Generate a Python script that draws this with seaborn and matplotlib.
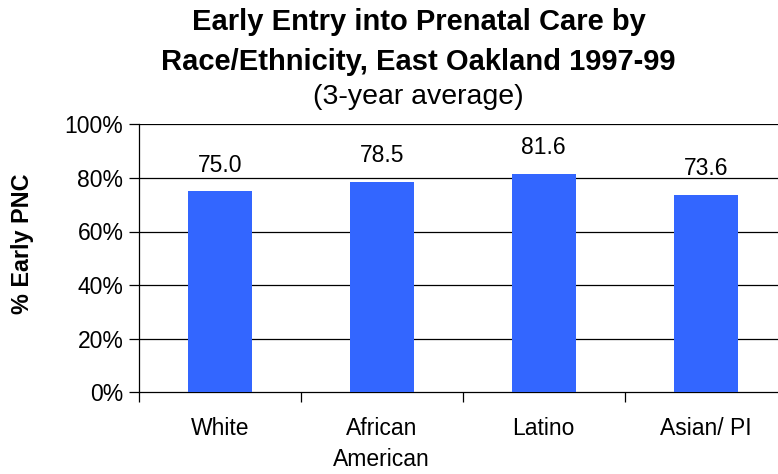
import matplotlib
matplotlib.use("Agg")
import matplotlib.pyplot as plt
import seaborn as sns
import pandas as pd

# Early prenatal care entry by race/ethnicity, East Oakland 1997-99
groups = ["White", "African\nAmerican", "Latino", "Asian/ PI"]
pct_early = [75.0, 78.5, 81.6, 73.6]
y_ticks = [0, 20, 40, 60, 80, 100]
y_tick_labels = ["0%", "20%", "40%", "60%", "80%", "100%"]

df = pd.DataFrame({"group": groups, "pct": pct_early})

sns.set_theme(style="white")
plt.rcParams["font.family"] = ["Liberation Sans", "DejaVu Sans"]
plt.rcParams["text.color"] = "black"
plt.rcParams["xtick.color"] = "black"
plt.rcParams["ytick.color"] = "black"
plt.rcParams["axes.labelcolor"] = "black"

fig = plt.figure(figsize=(7.78, 4.74), dpi=100)
ax = fig.add_axes([138.7 / 778, (474 - 392.3) / 474, 648 / 778, 268 / 474])

sns.barplot(data=df, x="group", y="pct", color="#3366FF", saturation=1,
            width=0.395, linewidth=0, edgecolor="none", ax=ax, zorder=3)

ax.set_xlim(-0.5, 3.5)
ax.set_ylim(0, 100)

# horizontal gridlines
for v in y_ticks[1:]:
    ax.axhline(v, color="black", linewidth=0.9, zorder=1)

ax.set_yticks(y_ticks)
ax.set_yticklabels(y_tick_labels, fontsize=16.5)
ax.tick_params(axis="y", direction="out", length=7, width=0.9, color="black",
               left=True, pad=4)

# category boundary ticks below, labels on category centres
ax.set_xticks([-0.5, 0.5, 1.5, 2.5, 3.5])
ax.set_xticklabels([])
ax.set_xticks(range(len(groups)), minor=True)
ax.set_xticklabels(groups, minor=True, fontsize=16.5, linespacing=1.4)
ax.tick_params(axis="x", which="major", direction="out", length=7, width=0.9,
               color="black", bottom=True)
ax.tick_params(axis="x", which="minor", length=0, pad=18)
for lbl in ax.get_xticklabels(minor=True):
    lbl.set_verticalalignment("top")

ax.set_xlabel("")
ax.set_ylabel("")
for side in ["top", "right"]:
    ax.spines[side].set_visible(False)
for side in ["left", "bottom"]:
    ax.spines[side].set_color("black")
    ax.spines[side].set_linewidth(0.9)

for cont in ax.containers:
    ax.bar_label(cont, fmt="%.1f", padding=10.5, fontsize=16.5, color="black")

fig.text(22 / 778, 1 - 243.5 / 474, "% Early PNC", rotation=90, fontsize=16.8,
         fontweight="bold", ha="center", va="center")

cx = 418.5 / 778
fig.text(cx, 1 - 30.5 / 474, "Early Entry into Prenatal Care by", fontsize=21,
         fontweight="bold", ha="center", va="baseline")
fig.text(cx, 1 - 69.5 / 474, "Race/Ethnicity, East Oakland 1997-99", fontsize=21,
         fontweight="bold", ha="center", va="baseline")
fig.text(cx, 1 - 104 / 474, "(3-year average)", fontsize=20.5,
         ha="center", va="baseline")

fig.savefig("out.png", dpi=100)
